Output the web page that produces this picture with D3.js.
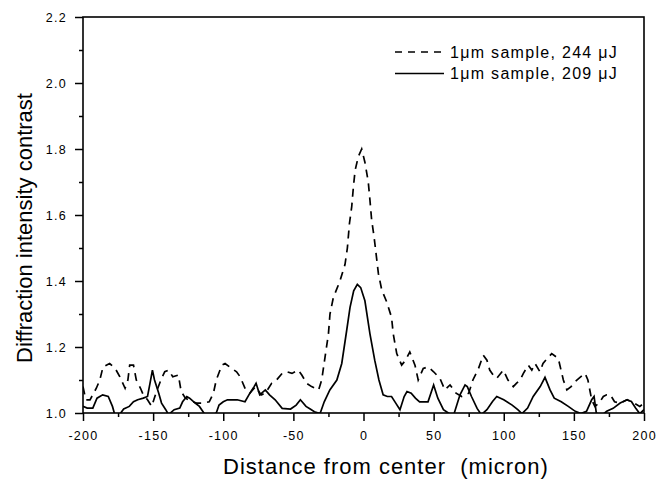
<!DOCTYPE html>
<html>
<head>
<meta charset="utf-8">
<script src="https://cdn.jsdelivr.net/npm/d3@7"></script>
<style>
  body { margin: 0; background: #fff; }
  text { font-family: "Liberation Sans", Arial, sans-serif; fill: #000; }
</style>
</head>
<body>
<div id="chartid"></div>
<script>
// data
var dashedDistance = [-200, -198, -195, -190.5, -188, -185.7, -181, -177, -173.8, -170, -168, -166.7, -164, -162, -159, -157, -154, -151, -148, -144, -141.7, -139, -136, -132, -130, -127, -122, -119, -114, -110, -107, -105, -101, -98.7, -94, -90.5, -88, -84, -81, -77, -73, -70, -65.5, -62, -58, -54.7, -51, -46.5, -44, -40.5, -37, -32, -29.8, -27.4, -25, -23.9, -21.5, -16.8, -13.2, -11.5, -10, -8.4, -7.2, -6, -3.7, -1.3, 1, 3.4, 4.6, 5.8, 7.5, 8.9, 10.6, 13, 16.5, 20, 21.2, 23.7, 27.2, 30, 33, 36.7, 39, 42.6, 46, 50, 54.5, 58, 61.7, 66, 70, 75, 78, 82, 85.4, 88, 90, 92.5, 95, 99.7, 103, 106.8, 109, 111.6, 114, 117.5, 120, 122.3, 125.8, 128, 131, 134.2, 138.9, 142.5, 145, 148, 150.8, 155, 158, 160, 162.7, 165, 168, 171, 173.4, 176, 179, 183, 188, 193, 197, 200];
var dashedContrast = [1.08, 1.04, 1.04, 1.075, 1.10, 1.14, 1.15, 1.135, 1.11, 1.075, 1.10, 1.145, 1.145, 1.10, 1.075, 1.055, 1.04, 1.02, 1.06, 1.105, 1.125, 1.13, 1.11, 1.115, 1.065, 1.045, 1.034, 1.03, 1.03, 1.034, 1.06, 1.10, 1.145, 1.15, 1.135, 1.125, 1.11, 1.07, 1.06, 1.08, 1.055, 1.06, 1.09, 1.10, 1.12, 1.125, 1.12, 1.13, 1.115, 1.09, 1.08, 1.07, 1.10, 1.17, 1.24, 1.30, 1.35, 1.40, 1.45, 1.50, 1.575, 1.625, 1.685, 1.735, 1.777, 1.80, 1.76, 1.70, 1.645, 1.585, 1.535, 1.485, 1.423, 1.373, 1.337, 1.29, 1.24, 1.18, 1.145, 1.16, 1.185, 1.145, 1.10, 1.135, 1.14, 1.125, 1.105, 1.07, 1.085, 1.06, 1.05, 1.06, 1.10, 1.135, 1.175, 1.16, 1.13, 1.115, 1.105, 1.13, 1.10, 1.08, 1.09, 1.10, 1.12, 1.145, 1.13, 1.15, 1.125, 1.15, 1.165, 1.18, 1.165, 1.10, 1.07, 1.08, 1.095, 1.11, 1.12, 1.10, 1.04, 1.02, 1.03, 1.05, 1.055, 1.055, 1.034, 1.03, 1.04, 1.03, 1.02, 1.03];

var solidDistance = [-200, -197, -193, -190, -186, -182, -179, -177, -174, -171, -167, -164, -161, -157, -154, -152, -150.5, -149, -146, -144, -141, -139, -135, -131, -129, -126, -124, -120, -117, -113, -109, -105, -103, -100, -97, -90, -84.5, -81, -78, -76.6, -74, -70, -67, -63, -58, -52, -48, -45, -41, -38, -35, -31, -28, -24, -19, -15.5, -12, -9.6, -7, -4.4, -2, 1, 4.6, 8, 11, 14, 17, 20, 23, 26, 29, 31, 34, 37, 40, 46, 50, 53, 57, 60.5, 64, 68.8, 72.4, 74, 77, 81, 84, 88, 92, 95, 100, 106, 110, 113, 117, 121, 126, 129.4, 133, 136, 141, 146, 151, 155, 159, 162.7, 164.4, 166, 169, 173.4, 178, 183, 187.7, 191, 194, 197, 200];
var solidContrast = [1.02, 1.015, 1.015, 1.045, 1.055, 1.05, 1.02, 0.99, 0.995, 1.012, 1.02, 1.034, 1.04, 1.045, 1.05, 1.095, 1.13, 1.10, 1.06, 1.03, 1.01, 0.995, 1.01, 1.015, 1.034, 1.05, 1.045, 1.03, 1.02, 0.995, 0.99, 1.0, 1.024, 1.034, 1.04, 1.04, 1.034, 1.06, 1.08, 1.09, 1.055, 1.07, 1.055, 1.04, 1.014, 1.012, 1.024, 1.04, 1.02, 1.012, 1.004, 0.998, 1.034, 1.07, 1.10, 1.15, 1.25, 1.32, 1.37, 1.39, 1.38, 1.34, 1.24, 1.16, 1.10, 1.055, 1.05, 1.05, 1.03, 1.01, 1.05, 1.065, 1.06, 1.045, 1.034, 1.034, 1.085, 1.045, 1.01, 1.0, 0.99, 1.055, 1.085, 1.08, 1.05, 1.014, 0.995, 1.01, 1.035, 1.05, 1.04, 1.024, 1.01, 0.998, 1.015, 1.05, 1.08, 1.108, 1.07, 1.045, 1.034, 1.02, 1.005, 0.998, 1.005, 1.04, 1.05, 1.0, 0.99, 1.005, 1.014, 1.03, 1.04, 1.035, 1.015, 0.998, 1.01];

var xTicks = [-200, -150, -100, -50, 0, 50, 100, 150, 200];
var xMinorTicks = [-175, -125, -75, -25, 25, 75, 125, 175];
var yTicks = [1.0, 1.2, 1.4, 1.6, 1.8, 2.0, 2.2];
var yMinorTicks = [1.1, 1.3, 1.5, 1.7, 1.9, 2.1];
var legendLabels = ["1\u03bcm sample, 244 \u03bcJ", "1\u03bcm sample, 209 \u03bcJ"];
var legendDash = ["7,6", null];

//chart parameters
var W = 663, H = 480;
var margin = {top: 17, right: 19, bottom: 67, left: 83};
var width = W - margin.left - margin.right;
var height = H - margin.top - margin.bottom;

var svg = d3.select("div#chartid")
  .append("svg")
  .attr("width", W)
  .attr("height", H)
;

var g = svg.append("g")
  .attr("transform", "translate(" + margin.left + "," + margin.top + ")")
;

//scales
var x = d3.scaleLinear()
  .domain([-200, 200])
  .range([0, width])
;
var y = d3.scaleLinear()
  .domain([1.0, 2.2])
  .range([height, 0])
;

g.append("clipPath")
  .attr("id", "plotclip")
  .append("rect")
  .attr("width", width)
  .attr("height", height)
;

//minor ticks first, major axes on top
g.append("g")
  .attr("transform", "translate(0," + height + ")")
  .call(d3.axisBottom(x).tickValues(xMinorTicks).tickSize(4).tickFormat(""))
;
g.append("g")
  .call(d3.axisLeft(y).tickValues(yMinorTicks).tickSize(4).tickFormat(""))
;

var xAxis = g.append("g")
  .attr("class", "x axis")
  .attr("transform", "translate(0," + height + ")")
  .call(d3.axisBottom(x).tickValues(xTicks).tickSize(8).tickSizeOuter(0).tickPadding(10)
    .tickFormat(function(d) { return String(d); }))
;
var yAxis = g.append("g")
  .attr("class", "y axis")
  .call(d3.axisLeft(y).tickValues(yTicks).tickSize(8).tickSizeOuter(0).tickPadding(8)
    .tickFormat(function(d) { return d.toFixed(1); }))
;

g.selectAll(".domain").remove();
g.selectAll(".tick line").attr("stroke", "#000").attr("stroke-width", 1.5);
g.selectAll(".tick text")
  .style("font-size", "12.5px")
  .style("letter-spacing", "1.3px")
  .attr("fill", "#000")
;

//frame
g.append("rect")
  .attr("width", width)
  .attr("height", height)
  .attr("fill", "none")
  .attr("stroke", "#000")
  .attr("stroke-width", 1.6)
;

//lines
var line = d3.line()
  .x(function(d) { return x(d[0]); })
  .y(function(d) { return y(d[1]); })
;

var plot = g.append("g").attr("clip-path", "url(#plotclip)");

plot.append("path")
  .datum(dashedDistance.map(function(d, i) { return [d, dashedContrast[i]]; }))
  .attr("d", line)
  .attr("fill", "none")
  .attr("stroke", "#000")
  .attr("stroke-width", 1.7)
  .attr("stroke-dasharray", "8,6")
;
plot.append("path")
  .datum(solidDistance.map(function(d, i) { return [d, solidContrast[i]]; }))
  .attr("d", line)
  .attr("fill", "none")
  .attr("stroke", "#000")
  .attr("stroke-width", 1.7)
;

//legend
var legend = g.selectAll(".legend")
  .data(legendLabels)
  .enter()
  .append("g")
  .attr("class", "legend")
  .attr("transform", function(d, i) { return "translate(" + (395 - margin.left) + "," + (52 - margin.top + i * 21.5) + ")"; })
;
legend.append("line")
  .attr("x1", 0)
  .attr("x2", 49)
  .attr("stroke", "#000")
  .attr("stroke-width", 1.5)
  .attr("stroke-dasharray", function(d, i) { return legendDash[i]; })
;
legend.append("text")
  .attr("x", 55)
  .attr("dy", "0.35em")
  .style("font-size", "16px")
  .style("letter-spacing", "1.3px")
  .text(function(d) { return d; })
;

//axis titles
svg.append("text")
  .attr("x", 386)
  .attr("y", 474)
  .attr("text-anchor", "middle")
  .style("font-size", "22px")
  .style("letter-spacing", "1px")
  .style("white-space", "pre")
  .text("Distance from center  (micron)")
;
svg.append("text")
  .attr("transform", "translate(32,228) rotate(-90)")
  .attr("text-anchor", "middle")
  .style("font-size", "22px")
  .text("Diffraction intensity contrast")
;
</script>
</body>
</html>
